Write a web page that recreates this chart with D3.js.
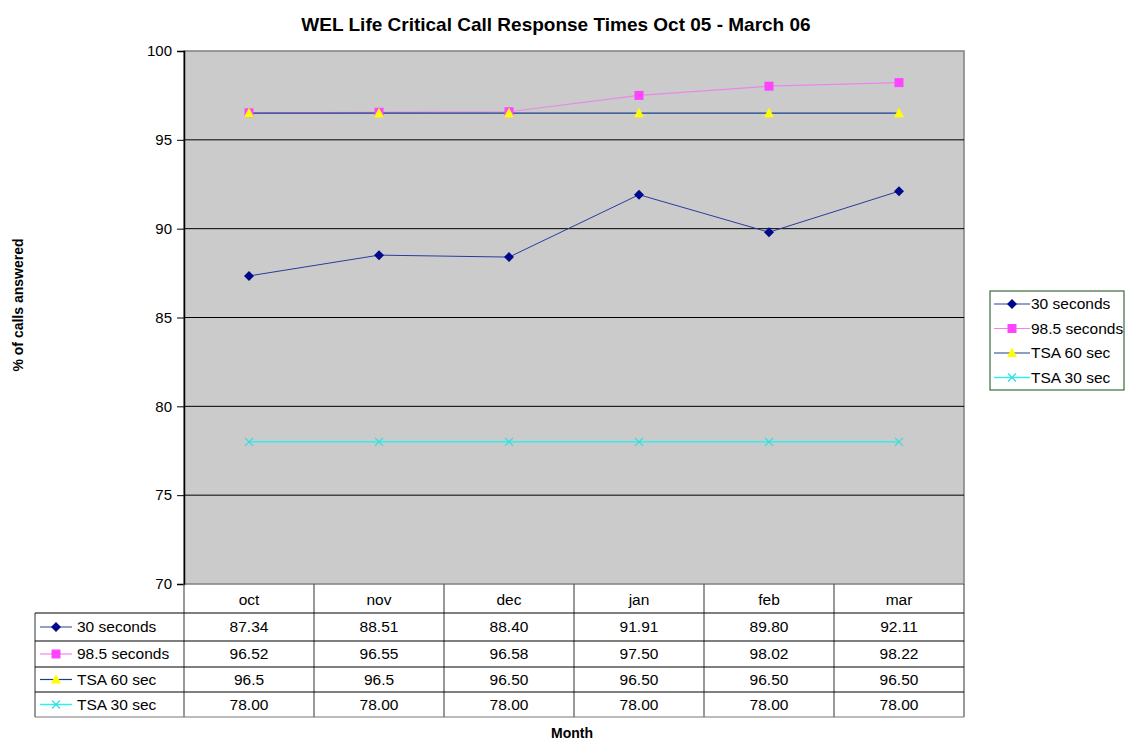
<!doctype html>
<html lang="en">
  <head>
    <meta charset="UTF-8" />
    <title>WEL Life Critical Call Response Times</title>
    <style>
      body { margin: 0; background: #fff; }
      svg { font-family: "Liberation Sans", Arial, sans-serif; }
      .tick text { font-size: 15px; fill: #000; }
    </style>
  </head>
  <body>
    <div id="chart"></div>
    <script src="https://cdn.jsdelivr.net/npm/d3@7"></script>
    <script>
      const months = ["oct", "nov", "dec", "jan", "feb", "mar"];
      const seconds30 = [87.34, 88.51, 88.40, 91.91, 89.80, 92.11];
      const seconds985 = [96.52, 96.55, 96.58, 97.50, 98.02, 98.22];
      const tsa60 = [96.5, 96.5, 96.5, 96.5, 96.5, 96.5];
      const tsa30 = [78, 78, 78, 78, 78, 78];
      const seriesNames = ["30 seconds", "98.5 seconds", "TSA 60 sec", "TSA 30 sec"];
      const tableLabels = [
        ["87.34", "88.51", "88.40", "91.91", "89.80", "92.11"],
        ["96.52", "96.55", "96.58", "97.50", "98.02", "98.22"],
        ["96.5", "96.5", "96.50", "96.50", "96.50", "96.50"],
        ["78.00", "78.00", "78.00", "78.00", "78.00", "78.00"]
      ];
      const yTicks = [70, 75, 80, 85, 90, 95, 100];

      const series = [
        { name: seriesNames[0], values: seconds30, line: "#2a3c9c", width: 1, marker: "diamond", fill: "#00088c" },
        { name: seriesNames[1], values: seconds985, line: "#e888e8", width: 1.2, marker: "square", fill: "#ff44ff" },
        { name: seriesNames[2], values: tsa60, line: "#1c3f8c", width: 1.2, marker: "triangle", fill: "#ffff00" },
        { name: seriesNames[3], values: tsa30, line: "#33eeee", width: 1.5, marker: "cross", fill: "#33dddd" }
      ];

      const W = 1125, H = 740;
      const plotLeft = 184, plotRight = 964, plotTop = 51, plotBottom = 584;

      const svg = d3.select("#chart").append("svg")
        .attr("width", W).attr("height", H);

      const x = d3.scaleBand().domain(months).range([plotLeft, plotRight]);
      const y = d3.scaleLinear().domain([70, 100]).range([plotBottom, plotTop]);

      // plot area
      svg.append("rect")
        .attr("x", plotLeft).attr("y", plotTop)
        .attr("width", plotRight - plotLeft).attr("height", plotBottom - plotTop)
        .attr("fill", "#cbcbcb").attr("stroke", "#808080").attr("stroke-width", 1.5);

      svg.append("g").selectAll("line")
        .data(yTicks.slice(1, -1))
        .enter().append("line")
        .attr("x1", plotLeft).attr("x2", plotRight)
        .attr("y1", d => y(d)).attr("y2", d => y(d))
        .attr("stroke", "#000").attr("stroke-width", 1);

      const yAxis = svg.append("g")
        .attr("transform", `translate(${plotLeft},0)`)
        .call(d3.axisLeft(y).tickValues(yTicks).tickSize(7).tickPadding(5));
      yAxis.select(".domain").attr("stroke", "#000").attr("stroke-width", 1.5);
      yAxis.selectAll(".tick line").attr("stroke", "#000");

      // titles
      svg.append("text")
        .attr("x", 556).attr("y", 31)
        .attr("text-anchor", "middle")
        .style("font-size", "19px").style("font-weight", "bold")
        .text("WEL Life Critical Call Response Times Oct 05 - March 06");

      svg.append("text")
        .attr("transform", "translate(23,305) rotate(-90)")
        .attr("text-anchor", "middle")
        .style("font-size", "14px").style("font-weight", "bold")
        .text("% of calls answered");

      svg.append("text")
        .attr("x", 572).attr("y", 738)
        .attr("text-anchor", "middle")
        .style("font-size", "14px").style("font-weight", "bold")
        .text("Month");

      // Excel-like marker shapes
      const markerPath = m => ({
        diamond: "M0,-5L5,0L0,5L-5,0Z",
        square: "M-4.5,-4.5H4.5V4.5H-4.5Z",
        triangle: "M0,-5.5L5,4L-5,4Z",
        cross: "M-4,-4L4,4M-4,4L4,-4"
      })[m];

      const drawMarker = (g, s, cx, cy) => {
        const p = g.append("path")
          .attr("transform", `translate(${cx},${cy})`)
          .attr("d", markerPath(s.marker));
        if (s.marker === "cross") p.attr("fill", "none").attr("stroke", s.fill).attr("stroke-width", 1.2);
        else p.attr("fill", s.fill);
      };

      const line = d3.line()
        .x((d, i) => x(months[i]) + x.bandwidth() / 2)
        .y(d => y(d));

      // draw order: 30s, TSA30, 98.5s, then TSA60 on top
      const order = [series[0], series[3], series[1], series[2]];
      order.forEach(s => {
        svg.append("path")
          .datum(s.values)
          .attr("d", line)
          .attr("fill", "none")
          .attr("stroke", s.line)
          .attr("stroke-width", s.width);
      });
      order.forEach(s => {
        const g = svg.append("g");
        s.values.forEach((v, i) => drawMarker(g, s, x(months[i]) + x.bandwidth() / 2, y(v)));
      });

      // data table
      const tableLeft = 35;
      const rowEdges = [613, 641, 667, 692, 717];
      const table = svg.append("g");

      table.selectAll(".hdr")
        .data(months)
        .enter().append("text")
        .attr("x", d => x(d) + x.bandwidth() / 2)
        .attr("y", 605)
        .attr("text-anchor", "middle")
        .style("font-size", "15.5px")
        .text(d => d);

      // column lines
      table.selectAll(".col")
        .data(months.concat(["end"]))
        .enter().append("line")
        .attr("x1", d => d === "end" ? plotRight : x(d))
        .attr("x2", d => d === "end" ? plotRight : x(d))
        .attr("y1", plotBottom).attr("y2", rowEdges[4])
        .attr("stroke", "#555").attr("stroke-width", 1.2);

      table.append("line")
        .attr("x1", tableLeft).attr("x2", tableLeft)
        .attr("y1", rowEdges[0]).attr("y2", rowEdges[4])
        .attr("stroke", "#555").attr("stroke-width", 1.2);

      table.selectAll(".row")
        .data(rowEdges)
        .enter().append("line")
        .attr("x1", tableLeft).attr("x2", plotRight)
        .attr("y1", d => d).attr("y2", d => d)
        .attr("stroke", (d, i) => i === 4 ? "#777" : "#000").attr("stroke-width", 1.2);

      series.forEach((s, r) => {
        const cy = (rowEdges[r] + rowEdges[r + 1]) / 2;
        const g = table.append("g");
        g.append("line")
          .attr("x1", 40).attr("x2", 72).attr("y1", cy).attr("y2", cy)
          .attr("stroke", s.line).attr("stroke-width", s.width);
        drawMarker(g, s, 56, cy);
        g.append("text")
          .attr("x", 77).attr("y", cy + 5)
          .style("font-size", "15.5px")
          .text(s.name);
        tableLabels[r].forEach((t, i) => {
          g.append("text")
            .attr("x", x(months[i]) + x.bandwidth() / 2)
            .attr("y", cy + 5)
            .attr("text-anchor", "middle")
            .style("font-size", "15.5px")
            .text(t);
        });
      });

      // legend
      const legend = svg.append("g");
      legend.append("rect")
        .attr("x", 990).attr("y", 291).attr("width", 134).attr("height", 99)
        .attr("fill", "#fff").attr("stroke", "#3d6b3d").attr("stroke-width", 1.2);
      series.forEach((s, i) => {
        const cy = 304 + i * 24.5;
        legend.append("line")
          .attr("x1", 994).attr("x2", 1030).attr("y1", cy).attr("y2", cy)
          .attr("stroke", s.line).attr("stroke-width", s.width);
        drawMarker(legend, s, 1012, cy);
        legend.append("text")
          .attr("x", 1031).attr("y", cy + 5)
          .style("font-size", "15.5px")
          .text(s.name);
      });
    </script>
  </body>
</html>
